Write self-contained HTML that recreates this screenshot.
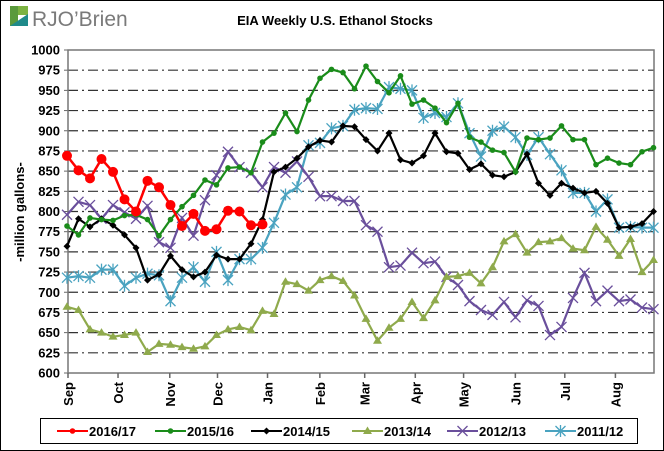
<!DOCTYPE html>
<html><head><meta charset="utf-8"><style>
html,body{margin:0;padding:0;background:#fff;}
svg{display:block;font-family:"Liberation Sans",Arial,sans-serif;}
</style></head><body>
<svg id="chart" width="664" height="451" viewBox="0 0 664 451">
<rect x="0.5" y="0.5" width="663" height="450" fill="#fff" stroke="#000"/>
<g>
<rect x="10" y="6" width="8" height="20" fill="#5a9a3c"/>
<rect x="18" y="6" width="10" height="9" fill="#7cb342"/>
<polygon points="10,26 28,14 28,26" fill="#1f8a8a"/>
<text x="32" y="26" font-size="21" fill="#7a7a7a">RJO’Brien</text>
</g>
<text x="335" y="25" font-size="13" font-weight="bold" text-anchor="middle" fill="#000">EIA Weekly U.S. Ethanol Stocks</text>
<g id="grid"></g><g id="axes"></g><g id="series"></g>
<text transform="translate(24,212) rotate(-90)" font-size="13" font-weight="bold" text-anchor="middle">-million gallons-</text>
<rect x="40.5" y="418.5" width="597" height="25" fill="#fff" stroke="#000"/>
<g id="legend"></g>
</svg>
<script>
const months=["Sep","Oct","Nov","Dec","Jan","Feb","Mar","Apr","May","Jun","Jul","Aug"];
const monthWeeks=[0,4.35,8.85,13,17.35,21.9,25.8,30.2,34.4,38.9,43.2,47.6];
const yTicks=[600,625,650,675,700,725,750,775,800,825,850,875,900,925,950,975,1000];
const s1617=[869,851,841,865,849,815,800,838,830,808,782,797,776,778,801,800,783,784];
const s1516=[782,771,792,790,789,795,796,790,770,790,806,820,839,833,854,855,848,886,897,922,899,938,965,976,972,952,980,961,947,968,933,938,928,910,934,892,886,876,873,849,891,889,891,906,889,889,858,866,860,858,874,879];
const s1415=[757,791,781,791,783,771,755,715,722,745,728,719,725,746,741,741,760,790,849,855,866,880,888,886,906,905,889,875,897,864,860,869,897,874,872,852,859,845,843,849,871,835,820,835,829,823,825,810,780,781,785,800];
const s1314=[682,678,654,650,645,647,650,626,636,635,632,630,633,647,654,657,653,677,673,713,710,702,715,720,714,696,667,640,656,667,688,668,690,719,720,724,711,731,763,772,749,762,763,767,754,752,781,765,745,766,725,740];
const s1213=[796,812,808,791,808,799,791,807,762,755,792,770,814,845,874,855,848,830,855,848,862,843,819,819,813,813,783,775,731,733,749,736,738,719,709,689,678,672,688,669,690,683,647,657,693,724,689,702,689,691,681,679];
const s1112=[718,720,718,728,728,708,718,723,721,689,718,731,713,750,715,741,741,755,786,821,830,882,885,903,906,926,928,927,954,952,950,916,922,917,934,897,868,900,905,892,870,892,871,851,823,823,800,815,780,781,780,780];
const seriesNames=["2016/17","2015/16","2014/15","2013/14","2012/13","2011/12"];
const NS="http://www.w3.org/2000/svg";
const L=68,R=654,T=50,B=373;
const xs=w=>67+w*11.5;
const ys=v=>B-(v-600)*(B-T)/400;
function mk(tag,attrs,parent){const e=document.createElementNS(NS,tag);for(const k in attrs)e.setAttribute(k,attrs[k]);parent.appendChild(e);return e;}
const grid=document.getElementById('grid'),axes=document.getElementById('axes'),ser=document.getElementById('series'),leg=document.getElementById('legend');
yTicks.forEach(v=>{
 if(v>600&&v<1000){const g=mk('line',{x1:L,x2:R,y1:ys(v),y2:ys(v),stroke:'#333','stroke-width':1.2,'stroke-dasharray':'10,4,2,4'},grid);
 
 }
 const t=mk('text',{x:L-8,y:ys(v)+4.5,'font-size':13,'font-weight':'bold','text-anchor':'end'},axes);t.textContent=v;
 
 
 const tk=mk('line',{x1:L-4,x2:L,y1:ys(v),y2:ys(v),stroke:'#666'},axes);
 
 
});
const pb=mk('rect',{x:L,y:T,width:R-L,height:B-T,fill:'none',stroke:'#777','stroke-width':1.5},axes);


months.forEach((m,i)=>{const x=L+(monthWeeks[i])*11.5;
 const tk=mk('line',{x1:x,x2:x,y1:B,y2:B+5,stroke:'#666','stroke-width':1.5},axes);
 
 
 const t=mk('text',{transform:`translate(${x+5},${B+9}) rotate(-90)`,'font-size':13,'font-weight':'bold','text-anchor':'end'},axes);t.textContent=m;
 
 
});
const styles=[{c:'#ff0000',m:'bigdot'},{c:'#1a8c1a',m:'dot'},{c:'#000',m:'diamond'},{c:'#8faa4c',m:'tri'},{c:'#6a4f9c',m:'x'},{c:'#4aa3c0',m:'star'}];
function marker(type,x,y,c,p){
 if(type==='bigdot')return mk('circle',{cx:x,cy:y,r:5,fill:c},p);
 if(type==='dot')return mk('circle',{cx:x,cy:y,r:2.8,fill:c},p);
 if(type==='diamond')return mk('polygon',{points:`${x},${y-3.5} ${x+3.5},${y} ${x},${y+3.5} ${x-3.5},${y}`,fill:c},p);
 if(type==='tri')return mk('polygon',{points:`${x},${y-4.5} ${x+4.5},${y+3} ${x-4.5},${y+3}`,fill:c},p);
 if(type==='x')return mk('path',{d:`M${x-5},${y-5}L${x+5},${y+5}M${x-5},${y+5}L${x+5},${y-5}`,stroke:c,'stroke-width':1.3,fill:'none'},p);
 return mk('path',{d:`M${x-5},${y-5}L${x+5},${y+5}M${x-5},${y+5}L${x+5},${y-5}M${x},${y-6}L${x},${y+6}`,stroke:c,'stroke-width':1.3,fill:'none'},p);
}
const allData=[s1617,s1516,s1415,s1314,s1213,s1112];
for(let k=allData.length-1;k>=0;k--){
 const d=allData[k],st=styles[k];
 const g=mk('g',{},ser);
 
 
 const pl=mk('polyline',{points:d.map((v,i)=>xs(i)+','+ys(v)).join(' '),fill:'none',stroke:st.c,'stroke-width':k===0?2.5:2.2},g);
 
 
 d.forEach((v,i)=>{const m=marker(st.m,xs(i),ys(v),st.c,g);
  
  });
}
const legX=[57,155,251,352,447,545];
seriesNames.forEach((n,k)=>{const st=styles[k],x=legX[k],y=431;
 const g=mk('g',{},leg);
 
 
 mk('line',{x1:x,x2:x+31,y1:y,y2:y,stroke:st.c,'stroke-width':2},g);
 marker(st.m==='bigdot'?'dot':st.m,x+15.5,y,st.c,g);
 const t=mk('text',{x:x+32,y:y+5,'font-size':13,'font-weight':'bold'},g);t.textContent=n;
});
</script>
</body></html>
